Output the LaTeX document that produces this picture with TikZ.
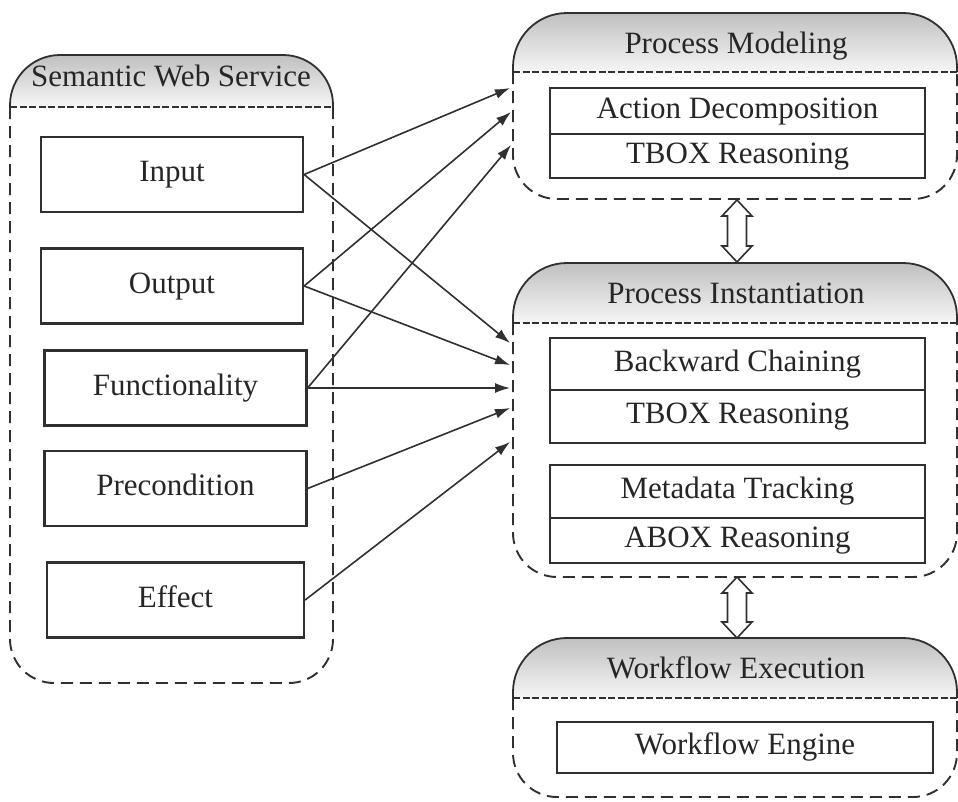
\documentclass[tikz,border=0pt]{standalone}
\usepackage{fontspec}
\setmainfont{Liberation Serif}
\usetikzlibrary{arrows.meta}
\definecolor{ink}{HTML}{303030}
\definecolor{txt}{HTML}{262626}
\definecolor{hdtop}{HTML}{C0C0C0}
\definecolor{hdbot}{HTML}{F6F6F6}
\newcommand\ctrshape[6]{%
  \shade[top color=hdtop,bottom color=hdbot,rounded corners=#6] (#1,#4) |- (#2,#3) -- (#2,#4);
  \draw[ink,line width=1.8pt,rounded corners=#6] (#1,#4) |- (#2,#3) -- (#2,#4);
  \draw[ink,line width=1.6pt,dash pattern=on 7pt off 2.5pt] (#1,#4) -- (#2,#4);
  \draw[ink,line width=1.9pt,dash pattern=on 12pt off 7pt,rounded corners=44] (#1,#4) |- (#2,#5) -- (#2,#4);
}
\begin{document}
\begin{tikzpicture}[x=1pt,y=-1pt,
  lbl/.style={font=\fontsize{31}{36}\selectfont, text=txt},
  box/.style={lbl, draw=ink, line width=2.2pt, inner sep=0pt, text height=20pt, text depth=6pt},
  lbox/.style={box, minimum width=262pt, minimum height=75pt},
  rbox/.style={box, minimum width=375pt},
  arr/.style={ink, line width=1.6pt, -{Latex[length=15pt,width=10pt]}},
  dbl/.style={ink, line width=1.6pt, fill=white}]
\useasboundingbox (0,0) rectangle (958,801);

% containers
\ctrshape{10}{333}{55}{107}{683}{50}
\ctrshape{513}{957}{13}{72}{199}{54}
\ctrshape{513}{957}{263}{323}{577}{54}
\ctrshape{513}{957}{638}{698}{797}{54}

% titles
\node[lbl, anchor=base] (swsT) at (171,86) {Semantic Web Service};
\node[lbl, anchor=base] (pmT) at (736,53) {Process Modeling};
\node[lbl, anchor=base] (piT) at (736,303) {Process Instantiation};
\node[lbl, anchor=base] (weT) at (736,678) {Workflow Execution};

% left boxes
\node[lbox] (in) at (172,174.5) {Input};
\node[lbox] (out) at (172,286) {Output};
\node[lbox] (fun) at (175.5,388) {Functionality};
\node[lbox] (pre) at (175.5,488.5) {Precondition};
\node[lbox, minimum width=257pt] (eff) at (175.5,600) {Effect};

% right boxes
\node[rbox, minimum height=46pt] (ad) at (737.5,111) {Action Decomposition};
\node[rbox, minimum height=44pt] (tb1) at (737.5,156) {TBOX Reasoning};
\node[rbox, minimum height=52pt] (bc) at (737.5,364) {Backward Chaining};
\node[rbox, minimum height=53pt] (tb2) at (737.5,416.5) {TBOX Reasoning};
\node[rbox, minimum height=53pt] (md) at (737.5,491.5) {Metadata Tracking};
\node[rbox, minimum height=45pt] (ab) at (737.5,540.5) {ABOX Reasoning};
\node[rbox, minimum width=376pt, minimum height=51pt] (we) at (745,747.5) {Workflow Engine};

% arrow targets
\coordinate (pm1) at (510,88);
\coordinate (pm2) at (511,112);
\coordinate (pm3) at (511,145);
\coordinate (pi1) at (510,343);
\coordinate (pi2) at (510,365);
\coordinate (pi3) at (510,388);
\coordinate (pi4) at (510,408);
\coordinate (pi5) at (510,442);

\draw[arr] (in.east) -- (pm1);
\draw[arr] (in.east) -- (pi1);
\draw[arr] (out.east) -- (pm2);
\draw[arr] (out.east) -- (pi2);
\draw[arr] (fun.east) -- (pm3);
\draw[arr] (fun.east) -- (pi3);
\draw[arr] (pre.east) -- (pi4);
\draw[arr] (eff.east) -- (pi5);

% double arrows
\coordinate (da1) at (737,200);
\coordinate (da2) at (737,577);
\draw[dbl] (da1) -- ++(15,16) -- ++(-5.5,0) -- ++(0,30) -- ++(5.5,0) -- ++(-15,16) -- ++(-15,-16) -- ++(5.5,0) -- ++(0,-30) -- ++(-5.5,0) -- cycle;
\draw[dbl] (da2) -- ++(15,16) -- ++(-5.5,0) -- ++(0,29) -- ++(5.5,0) -- ++(-15,16) -- ++(-15,-16) -- ++(5.5,0) -- ++(0,-29) -- ++(-5.5,0) -- cycle;
\end{tikzpicture}
\end{document}
